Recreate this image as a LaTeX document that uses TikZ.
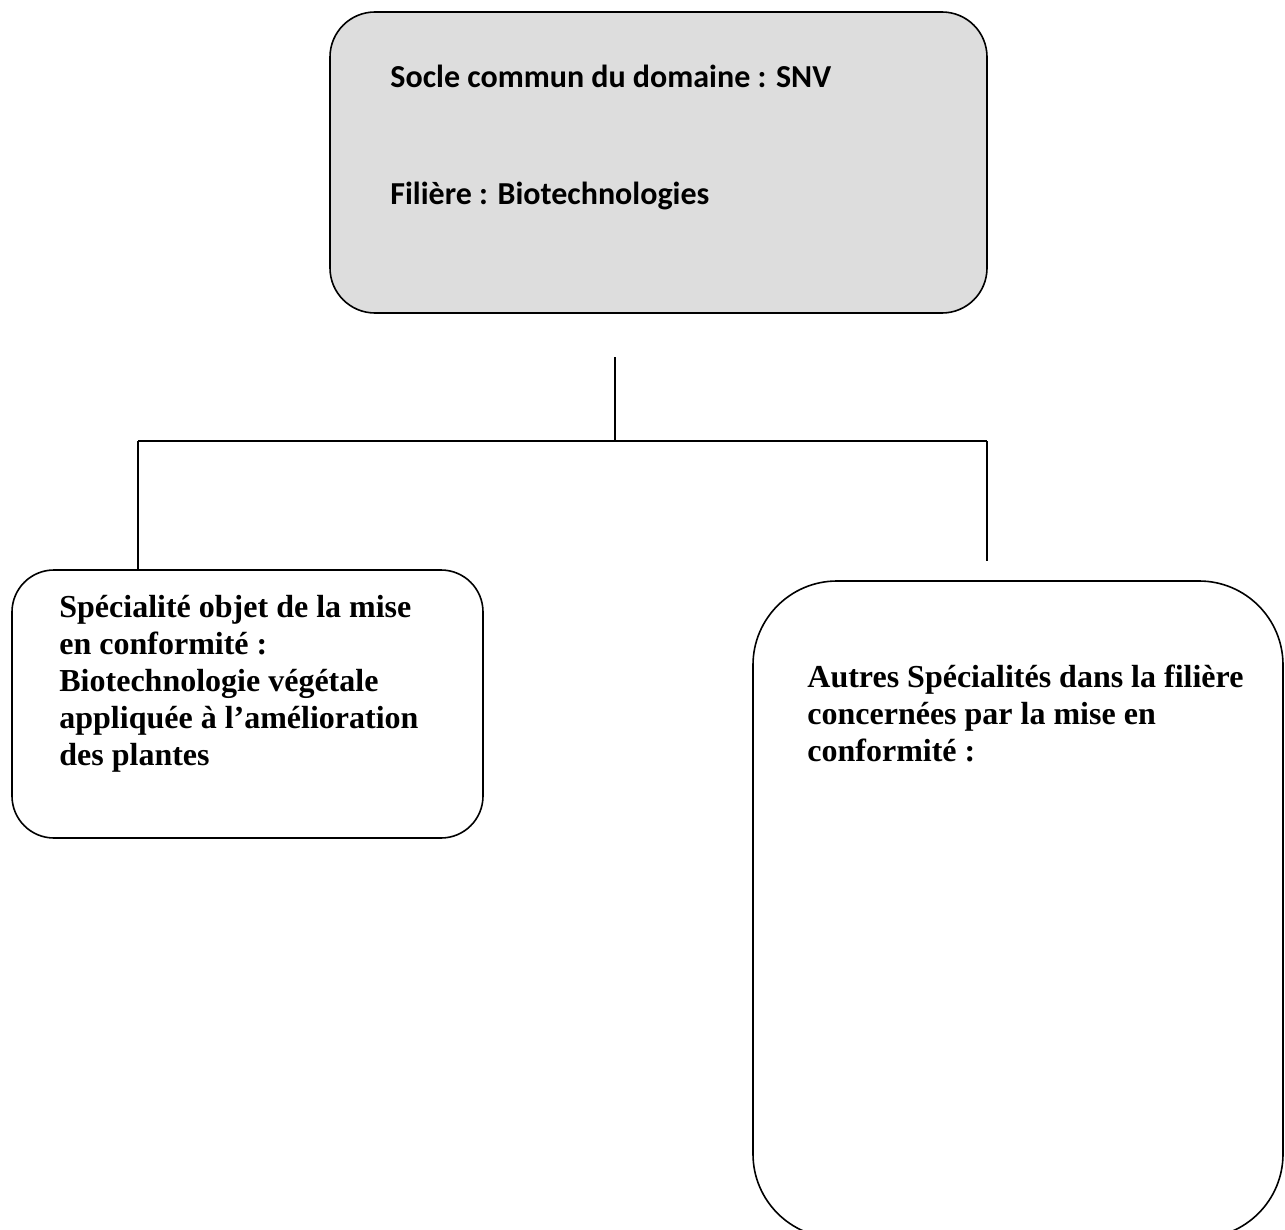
\documentclass[tikz,border=0pt]{standalone}
\usepackage{fontspec}
\setmainfont{Liberation Serif}
\newfontfamily\calibri{Carlito}
\usepackage{xcolor}
\usetikzlibrary{calc,positioning}
\definecolor{boxgray}{HTML}{DDDDDD}
\tikzset{
	box/.style={draw, line width=0.8pt, inner sep=0pt, outer sep=0pt},
	link/.style={line width=0.8pt},
	sans/.style={anchor=base west, inner sep=0pt, font=\calibri\bfseries\fontsize{16}{19}\selectfont},
	serif/.style={anchor=base west, inner sep=0pt, align=left, font=\bfseries\fontsize{16}{18.4}\selectfont}
}
\begin{document}
\begin{tikzpicture}[x=0.5pt, y=-0.5pt]
	\useasboundingbox (0,0) rectangle (1285,1230);
	\node[box, fill=boxgray, rounded corners=22.5pt, minimum width=328.5pt, minimum height=150.5pt] (socle) at (658.5,162.5) {};
	\node[box, rounded corners=21pt, minimum width=235.5pt, minimum height=134pt] (vegetale) at (247.5,704) {};
	\node[box, rounded corners=42pt, minimum width=265pt, minimum height=328.5pt] (autres) at (1018,909.5) {};
	\node[sans] (snv) at (390,88) {Socle commun du domaine : SNV};
	\node[sans] (filiere) at (390,205) {Filière : Biotechnologies};
	\node[serif] (specialite) at (59,765) {Spécialité objet de la mise\\en conformité :\\Biotechnologie végétale\\appliquée à l’amélioration\\des plantes};
	\node[serif] (autrestxt) at (807,761) {Autres Spécialités dans la filière\\concernées par la mise en\\conformité :};
	\coordinate (stem) at (615,357);
	\coordinate (hub) at (615,441);
	\coordinate (leftend) at (138,441);
	\coordinate (rightend) at (987,441);
	\coordinate (rightdrop) at (987,561);
	\draw[link] (stem) to (hub);
	\draw[link] (leftend) to (rightend);
	\draw[link] (leftend) to (leftend |- vegetale.north);
	\draw[link] (rightend) to (rightdrop);
\end{tikzpicture}
\end{document}
